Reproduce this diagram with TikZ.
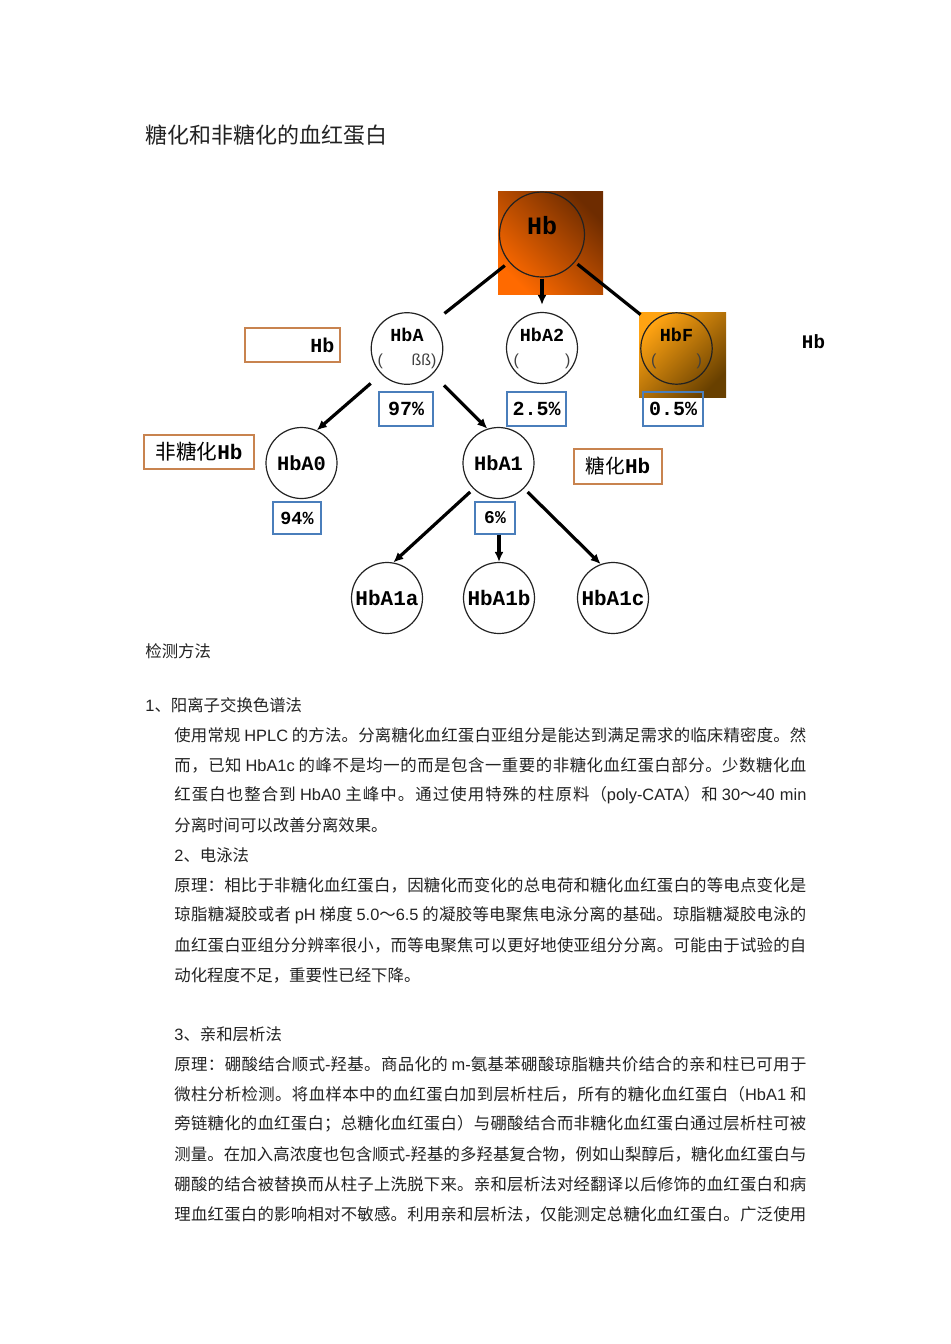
\documentclass[tikz,border=0pt]{standalone}
\usepackage{fontspec}
\setmainfont{Noto Sans CJK SC}
\setmonofont{Liberation Mono}
\newfontfamily\latfont{Liberation Sans}
\usetikzlibrary{shapes,arrows.meta,positioning,calc}
\definecolor{hbdark}{HTML}{6E2C00}
\definecolor{hbbright}{HTML}{FF6A00}
\definecolor{fbright}{HTML}{FFA312}
\definecolor{fdark}{HTML}{684000}
\definecolor{boxorange}{HTML}{C8834F}
\definecolor{boxblue}{HTML}{4A7EBB}
\definecolor{inkgray}{HTML}{222222}
% stretchable glue between CJK characters, for justified lines
\XeTeXinterchartokenstate=1
\newXeTeXintercharclass\cjkclass
\newcount\cjkcode
\cjkcode="3000
\loop
  \XeTeXcharclass\cjkcode=\cjkclass
  \advance\cjkcode by 1
\ifnum\cjkcode<"A000 \repeat
\cjkcode="FF00
\loop
  \XeTeXcharclass\cjkcode=\cjkclass
  \advance\cjkcode by 1
\ifnum\cjkcode<"FFF0 \repeat
\XeTeXinterchartoks\cjkclass\cjkclass={\hskip 0pt plus 2pt\relax}
\newcommand{\lat}[1]{{\latfont #1}}
\newcommand{\jline}[1]{\hbox to 316pt{#1}}
\newcommand{\parens}[2]{{\latfont\mdseries\fontsize{8}{12}\selectfont\color{black!75}\makebox[#1]{(\hfill#2)}}}
\begin{document}
\begin{tikzpicture}[x=0.5pt,y=-0.5pt,
  hbcirc/.style={circle, draw=inkgray, line width=0.6pt, minimum size=35.5pt, inner sep=0pt,
    font=\ttfamily\bfseries\fontsize{9.2}{12}\selectfont, align=center},
  pctbox/.style={draw=boxblue, line width=0.7pt, minimum height=17pt, inner sep=0pt,
    font=\ttfamily\bfseries\fontsize{10}{12}\selectfont},
  namebox/.style={draw=boxorange, line width=0.8pt, minimum height=17pt, inner sep=0pt},
  link/.style={line width=1.6pt, black},
  linkarrow/.style={link, -{Latex[length=5pt,width=4.5pt]}},
  bodytext/.style={anchor=west, inner sep=0pt, text=inkgray, font=\fontsize{8.2}{10}\selectfont}]
\useasboundingbox (0,0) rectangle (950,1344);

\node[bodytext, font=\fontsize{11}{13}\selectfont] (title) at (145,135) {糖化和非糖化的血红蛋白};

% --- shaded squares behind Hb and HbF ---
\shade[top color=hbdark, bottom color=hbbright, shading angle=-45] (498,191) rectangle (603,294);
\shade[top color=fbright, bottom color=fdark, shading angle=45] (639,312) rectangle (726,397);

% --- top level ---
\node[hbcirc, minimum size=42.5pt, font=\ttfamily\bfseries\fontsize{12.5}{14}\selectfont,
  text height=6pt, text depth=6pt] (hb) at (542,234.5) {Hb};

% --- second level ---
\node[hbcirc] (hba) at (407,348.5) {HbA\\\parens{29.5pt}{ßß}};
\node[hbcirc] (hba2) at (542,348) {HbA2\\\parens{28.5pt}{}};
\node[hbcirc, minimum size=35.7pt] (hbf) at (676.5,348.5) {HbF\\\parens{25.5pt}{}};

\node[pctbox, minimum width=27pt] (pct97) at (406,409) {97\%};
\node[pctbox, minimum width=29.5pt] (pct25) at (536.5,409) {2.5\%};
\node[pctbox, minimum width=30pt] (pct05) at (673,409) {0.5\%};

\node[namebox, minimum width=47.5pt, text width=42pt, align=right,
  font=\ttfamily\bfseries\fontsize{10}{12}\selectfont] (hbtag) at (292.5,345) {Hb};
\node[inner sep=0pt, font=\ttfamily\bfseries\fontsize{9.6}{12}\selectfont] (hbnote) at (813.5,342) {Hb};

% --- HbA0 / HbA1 ---
\node[hbcirc, font=\ttfamily\bfseries\fontsize{10.2}{12}\selectfont] (hbao) at (301.5,463) {HbA0};
\node[hbcirc, font=\ttfamily\bfseries\fontsize{10.2}{12}\selectfont] (hba1) at (498.5,463) {HbA1};

\node[namebox, minimum width=55pt] (nonglyco) at (199,452)
  {{\fontsize{10.3}{12}\selectfont 非糖化}{\ttfamily\bfseries\fontsize{10.5}{12}\selectfont Hb}};
\node[namebox, minimum width=44pt, minimum height=17.5pt] (glyco) at (618,466.5)
  {{\fontsize{9.8}{12}\selectfont 糖化}{\ttfamily\bfseries\fontsize{10.5}{12}\selectfont Hb}};

\node[pctbox, minimum width=24pt, minimum height=16pt,
  font=\ttfamily\bfseries\fontsize{9.2}{12}\selectfont] (pct94) at (297,518) {94\%};
\node[pctbox, minimum width=20pt, minimum height=16pt,
  font=\ttfamily\bfseries\fontsize{9}{12}\selectfont] (pct6) at (495,518) {6\%};

% --- HbA1 fractions ---
\node[hbcirc, font=\ttfamily\bfseries\fontsize{10.5}{12}\selectfont] (hbaa) at (387,598) {HbA1a};
\node[hbcirc, font=\ttfamily\bfseries\fontsize{10.5}{12}\selectfont] (hbab) at (499,598) {HbA1b};
\node[hbcirc, font=\ttfamily\bfseries\fontsize{10.5}{12}\selectfont] (hbac) at (613,598) {HbA1c};

% --- connectors ---
\draw[link, shorten <=2.7pt, shorten >=7.5pt] (hb.220) -- (hba.45);
\draw[linkarrow, shorten <=0.5pt, shorten >=3.5pt] (hb.south) -- (hba2.north);
\draw[link, shorten <=1.6pt, shorten >=6.6pt] (hb.320) -- (hbf.135);
\draw[linkarrow, shorten <=7pt] (hba.225) -- (hbao.65);
\draw[linkarrow, shorten <=7.9pt] (hba.315) -- (hba1.108);
\draw[linkarrow, shorten <=2.2pt] (hba1.226) -- (hbaa.80);
\draw[linkarrow] (pct6.south -| hbab.north) -- (hbab.north);
\draw[linkarrow, shorten <=2.5pt] (hba1.315) -- (hbac.110);

% --- text below the diagram ---
\node[bodytext] (methods) at (145,651) {检测方法};
\node[bodytext] (sec1) at (145,705) {\lat{1}、阳离子交换色谱法};
\node[bodytext] (l1) at (174,735) {\jline{使用常规 \lat{HPLC} 的方法。分离糖化血红蛋白亚组分是能达到满足需求的临床精密度。然}};
\node[bodytext] (l2) at (174,765) {\jline{而，已知 \lat{HbA1c} 的峰不是均一的而是包含一重要的非糖化血红蛋白部分。少数糖化血}};
\node[bodytext] (l3) at (174,795) {\jline{红蛋白也整合到 \lat{HbA0} 主峰中。通过使用特殊的柱原料（\lat{poly-CATA}）和 \lat{30}～\lat{40 min}}};
\node[bodytext] (l4) at (174,825) {分离时间可以改善分离效果。};
\node[bodytext] (sec2) at (174,855) {\lat{2}、电泳法};
\node[bodytext] (l5) at (174,885) {\jline{原理：相比于非糖化血红蛋白，因糖化而变化的总电荷和糖化血红蛋白的等电点变化是}};
\node[bodytext] (l6) at (174,915) {\jline{琼脂糖凝胶或者 \lat{pH} 梯度 \lat{5.0}～\lat{6.5} 的凝胶等电聚焦电泳分离的基础。琼脂糖凝胶电泳的}};
\node[bodytext] (l7) at (174,945) {\jline{血红蛋白亚组分分辨率很小，而等电聚焦可以更好地使亚组分分离。可能由于试验的自}};
\node[bodytext] (l8) at (174,975) {动化程度不足，重要性已经下降。};
\node[bodytext] (sec3) at (174,1034) {\lat{3}、亲和层析法};
\node[bodytext] (l9) at (174,1064) {\jline{原理：硼酸结合顺式\lat{-}羟基。商品化的 \lat{m-}氨基苯硼酸琼脂糖共价结合的亲和柱已可用于}};
\node[bodytext] (l10) at (174,1094) {\jline{微柱分析检测。将血样本中的血红蛋白加到层析柱后，所有的糖化血红蛋白（\lat{HbA1} 和}};
\node[bodytext] (l11) at (174,1124) {\jline{旁链糖化的血红蛋白；总糖化血红蛋白）与硼酸结合而非糖化血红蛋白通过层析柱可被}};
\node[bodytext] (l12) at (174,1154) {\jline{测量。在加入高浓度也包含顺式\lat{-}羟基的多羟基复合物，例如山梨醇后，糖化血红蛋白与}};
\node[bodytext] (l13) at (174,1184) {\jline{硼酸的结合被替换而从柱子上洗脱下来。亲和层析法对经翻译以后修饰的血红蛋白和病}};
\node[bodytext] (l14) at (174,1214) {\jline{理血红蛋白的影响相对不敏感。利用亲和层析法，仅能测定总糖化血红蛋白。广泛使用}};
\end{tikzpicture}
\end{document}
